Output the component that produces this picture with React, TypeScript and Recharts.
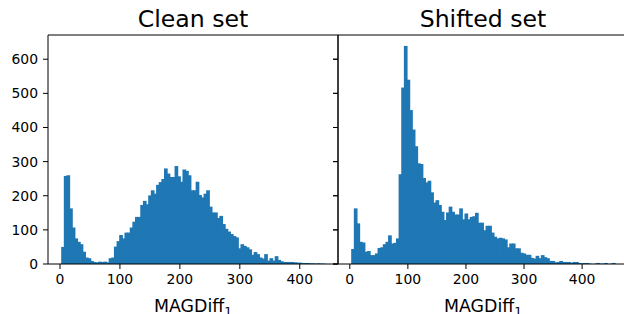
import React from 'react';
import { BarChart, Bar, XAxis, YAxis, Label } from 'recharts';

// histogram counts, 100 bins each
const CLEAN_COUNTS = [
  50, 258, 260, 163, 107, 75, 65, 58, 36, 19,
  17, 9, 6, 5, 7, 6, 7, 5, 17, 19,
  51, 67, 85, 75, 92, 92, 107, 124, 138, 138,
  173, 185, 175, 201, 216, 206, 232, 240, 249, 280,
  265, 255, 255, 287, 257, 241, 277, 273, 260, 216,
  216, 241, 202, 195, 206, 216, 168, 151, 151, 135,
  141, 117, 103, 95, 88, 82, 78, 46, 58, 53,
  49, 43, 27, 35, 29, 19, 16, 29, 10, 17,
  10, 23, 12, 8, 6, 6, 6, 6, 5, 4,
  4, 3, 3, 3, 2, 2, 1, 2, 1, 1,
];

const SHIFTED_COUNTS = [
  44, 163, 119, 65, 63, 36, 38, 26, 26, 31,
  47, 49, 58, 65, 84, 60, 62, 75, 263, 517,
  639, 540, 451, 394, 345, 295, 293, 252, 239, 244,
  210, 180, 187, 173, 153, 129, 151, 168, 153, 145,
  145, 163, 131, 148, 131, 138, 140, 150, 121, 121,
  99, 112, 112, 92, 80, 75, 77, 75, 72, 49,
  60, 60, 46, 46, 33, 31, 27, 27, 18, 16,
  24, 17, 26, 20, 17, 9, 9, 5, 6, 9,
  6, 6, 6, 4, 6, 6, 3, 2, 3, 3,
  1, 0, 1, 3, 1, 1, 3, 0, 1, 3,
];

// data range covered by the bins
const CLEAN_RANGE = [2, 441.8];
const SHIFTED_RANGE = [2.4, 456];

const X_TICKS = [0, 100, 200, 300, 400];
const Y_TICKS = [0, 100, 200, 300, 400, 500, 600];
const Y_DOMAIN = [0, 671];
const TITLES = ['Clean set', 'Shifted set'];

const BLUE = '#1f77b4';
const FONT = 'DejaVu Sans';
const TICK_LEN = 5;

function toBins(counts: number[], range: number[]) {
  const [lo, hi] = range;
  const w = (hi - lo) / counts.length;
  return counts.map((count, i) => ({ x: lo + w * (i + 0.5), count }));
}

const titleContent = (text: string) => (props: any) => {
  const { x, y, width, height } = props.viewBox;
  return (
    <text x={x + width / 2} y={y + height - 8.3} textAnchor="middle" fontSize={23.6} fontFamily={FONT} fill="#000">
      {text}
    </text>
  );
};

const xLabelContent = (props: any) => {
  const { x, y, width } = props.viewBox;
  return (
    <text x={x + width / 2} y={y + 48} textAnchor="middle" fontSize={17.4} fontFamily={FONT} fill="#000">
      MAGDiff
      <tspan fontSize={12.2} dy={4}>1</tspan>
    </text>
  );
};

const widenBar = (p: any) => (
  <rect x={p.x} y={p.y} width={p.width + 0.7} height={p.height} fill={BLUE} />
);

// shared y axis on the right panel: tick mark only, no label
const markOnly = (p: any) => (
  <line x1={p.x} x2={p.x + TICK_LEN} y1={p.y} y2={p.y} stroke="#000" />
);

const tickStyle = { fill: '#000', fontSize: 13.9, fontFamily: FONT };
const line = { stroke: '#000' };

function Panel({ counts, range, domain, title, first }: any) {
  const data = toBins(counts, range);
  return (
    <BarChart
      width={first ? 340 : 298}
      height={314}
      data={data}
      barCategoryGap={0}
      barGap={0}
      margin={{ top: 34, right: first ? 1 : 0, bottom: 25, left: first ? 8 : 0 }}
    >
      <XAxis
        dataKey="x"
        type="number"
        domain={domain}
        ticks={X_TICKS}
        interval={0}
        tickSize={TICK_LEN}
        tickMargin={5}
        height={25}
        tick={tickStyle}
        axisLine={line}
        tickLine={line}
      >
        <Label content={xLabelContent} />
      </XAxis>
      <XAxis xAxisId="top" orientation="top" height={1} tick={false} tickLine={false} axisLine={line}>
        <Label content={titleContent(title)} />
      </XAxis>
      <YAxis
        type="number"
        domain={Y_DOMAIN}
        ticks={Y_TICKS}
        interval={0}
        width={first ? 40 : 8}
        tickSize={TICK_LEN}
        tickMargin={first ? 5 : 0}
        tick={first ? tickStyle : markOnly}
        axisLine={line}
        tickLine={line}
      />
      {first && (
        <YAxis yAxisId="right" orientation="right" width={1} tick={false} tickLine={false} axisLine={line} />
      )}
      <Bar dataKey="count" fill={BLUE} isAnimationActive={false} shape={widenBar} />
    </BarChart>
  );
}

export default function App() {
  return (
    <div
      style={{
        position: 'absolute',
        left: 0,
        top: 0,
        width: 624,
        height: 314,
        overflow: 'hidden',
        background: '#fff',
        fontFamily: FONT,
      }}
    >
      <div style={{ position: 'absolute', left: 0, top: 0 }}>
        <Panel counts={CLEAN_COUNTS} range={CLEAN_RANGE} domain={[-20, 463.8]} title={TITLES[0]} first />
      </div>
      <div style={{ position: 'absolute', left: 330, top: 0 }}>
        <Panel counts={SHIFTED_COUNTS} range={SHIFTED_RANGE} domain={[-20.3, 479]} title={TITLES[1]} />
      </div>
    </div>
  );
}
